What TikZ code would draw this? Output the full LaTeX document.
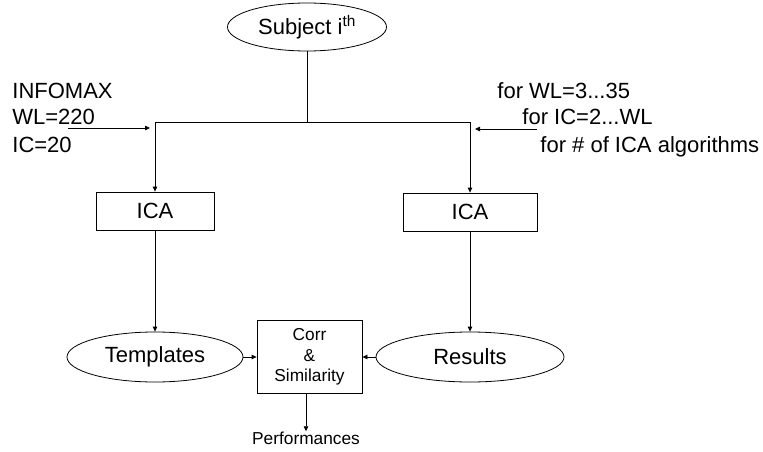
\documentclass[tikz,border=0pt]{standalone}
\usepackage{fontspec}
\setmainfont{Liberation Sans}
\usetikzlibrary{arrows.meta,shapes.geometric}

\begin{document}
\begin{tikzpicture}[x=1pt,y=-1pt,>={Triangle[length=5pt,width=4.5pt]},line width=0.8pt,
    oval/.style={draw,ellipse,inner sep=0pt,font=\fontsize{22}{26}\selectfont},
    box/.style={draw,rectangle,inner sep=0pt,font=\fontsize{22}{26}\selectfont},
    note/.style={anchor=base west,inner sep=0pt,font=\fontsize{22}{26}\selectfont}]
    \useasboundingbox (0,0) rectangle (763,452);
    % main nodes
    \node[oval,minimum width=159pt,minimum height=48pt] (subj) at (307,27) {Subject i\textsuperscript{th}};
    \node[box,minimum width=118pt,minimum height=38pt] (icaL) at (155,211) {ICA};
    \node[box,minimum width=134pt,minimum height=38pt] (icaR) at (470,212) {ICA};
    \node[oval,minimum width=176pt,minimum height=50pt] (tmpl) at (155,357) {Templates};
    \node[oval,minimum width=188pt,minimum height=50pt] (res) at (470,357) {Results};
    \node[box,minimum width=105pt,minimum height=73pt,align=center,
          font=\fontsize{17.3}{20.5}\selectfont] (corr) at (309.5,357) {Corr\\\&\\Similarity};
    \node[inner sep=0pt,font=\fontsize{17.3}{20}\selectfont] (perf) at (306,438) {Performances};
    % parameter notes
    \node[note] (infomax) at (12,99) {INFOMAX};
    \node[note] (wl) at (12,124) {WL=220};
    \node[note] (ic) at (12,152) {IC=20};
    \node[note] (forwl) at (497,99) {for WL=3...35};
    \node[note] (foric) at (522,124) {for IC=2...WL};
    \node[note] (foralg) at (540,152) {for \# of ICA algorithms};
    % split of the subject data
    \coordinate (split) at (307,122);
    \coordinate (cornL) at (155,122);
    \coordinate (cornR) at (470,122);
    \draw (subj) -- (split);
    \draw[->] (split) -- (cornL) -- (icaL);
    \draw[->] (split) -- (cornR) -- (icaR);
    \draw[->] (icaL) -- (tmpl);
    \draw[->] (icaR) -- (res);
    \draw[->] (tmpl) -- (corr);
    \draw[->] (res) -- (corr);
    \draw[->] (corr.south -| perf) -- (perf);
    % setting arrows
    \coordinate (inL) at (68,128);
    \coordinate (inLend) at (150,128);
    \coordinate (inR) at (537,129);
    \coordinate (inRend) at (475,129);
    \draw[->] (inL) -- (inLend);
    \draw[->] (inR) -- (inRend);
\end{tikzpicture}
\end{document}
